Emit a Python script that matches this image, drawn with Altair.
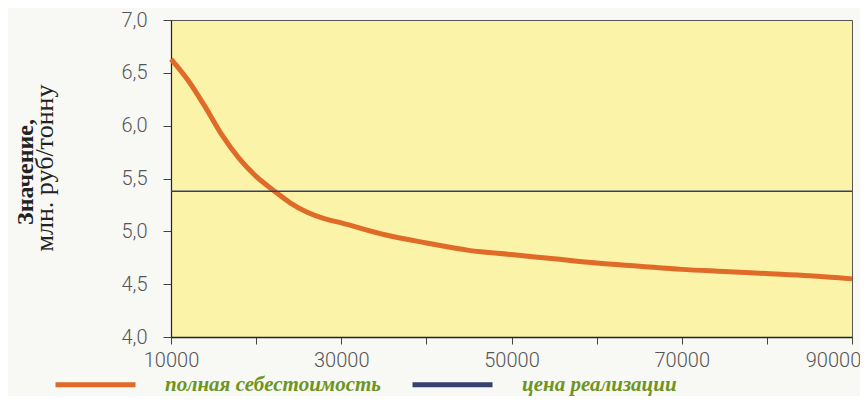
import altair as alt
import pandas as pd

# --- data ---
volume = [10000, 12000, 14000, 16000, 18000, 20000, 22000, 24000, 26000, 28000,
          30000, 35000, 40000, 45000, 50000, 55000, 60000, 65000, 70000, 75000,
          80000, 85000, 90000]
full_cost = [6.63, 6.43, 6.18, 5.91, 5.69, 5.52, 5.39, 5.27, 5.18, 5.12,
             5.08, 4.97, 4.89, 4.82, 4.78, 4.74, 4.70, 4.67, 4.64, 4.62,
             4.60, 4.58, 4.55]
price_x = [10000, 90000]
price_value = [5.38, 5.38]

series_names = ["полная себестоимость", "цена реализации"]
series_colors = ["#E06A28", "#34406E"]
x_ticks = [10000, 20000, 30000, 40000, 50000, 60000, 70000, 80000, 90000]
y_ticks = [4.0, 4.5, 5.0, 5.5, 6.0, 6.5, 7.0]
y_title_1 = "Значение,"
y_title_2 = "млн. руб/тонну"

df = pd.DataFrame({
    "x": volume + price_x,
    "v": full_cost + price_value,
    "s": [series_names[0]] * len(volume) + [series_names[1]] * len(price_x),
})

color = alt.Color(
    "s:N",
    scale=alt.Scale(domain=series_names, range=series_colors),
    legend=alt.Legend(
        title=None, orient="none", legendX=-118, legendY=322, direction="horizontal",
        symbolType="stroke", symbolSize=6400, symbolStrokeWidth=5,
        labelFont="Liberation Serif", labelFontStyle="italic", labelFontWeight="bold",
        labelFontSize=21, labelColor="#6E9520", labelOffset=27, columnPadding=21,
        labelLimit=400, padding=0,
    ),
)

xenc = alt.X(
    "x:Q",
    scale=alt.Scale(domain=[10000, 90000], nice=False),
    axis=alt.Axis(
        values=x_ticks, title=None, grid=False,
        labelExpr="datum.value % 20000 == 10000 ? format(datum.value, 'd') : ''",
        labelFont="Roboto", labelFontWeight=300, labelFontSize=20, labelColor="#555555",
        labelOffset={"condition": {"test": "datum.value == 90000", "value": -19}, "value": 0},
        tickSize=7, tickColor="#444444", domainColor="#222222", domainWidth=1.5,
        labelPadding=6, labelFlush=False,
    ),
)
yenc = alt.Y(
    "v:Q",
    scale=alt.Scale(domain=[4, 7], nice=False, zero=False),
    axis=alt.Axis(
        values=y_ticks, title=None, grid=False,
        labelExpr="replace(format(datum.value, '.1f'), '.', ',')",
        labelFont="Roboto", labelFontWeight=300, labelFontSize=20, labelColor="#555555",
        tickSize=8, tickColor="#444444", domainColor="#222222", domainWidth=1.2,
        labelPadding=16,
    ),
)

base = alt.Chart(df)
cost = base.transform_filter(alt.datum.s == series_names[0]).mark_line(
    strokeWidth=5, interpolate="monotone"
).encode(x=xenc, y=yenc, color=color)
price = base.transform_filter(alt.datum.s == series_names[1]).mark_line(
    strokeWidth=1.5
).encode(x=xenc, y=yenc, color=color)

t1 = alt.Chart(pd.DataFrame({"t": [y_title_1]})).mark_text(
    angle=270, font="Liberation Serif", fontWeight="bold", fontSize=24,
    color="#222222", align="center", baseline="alphabetic"
).encode(x=alt.value(-138), y=alt.value(152), text="t:N")
t2 = alt.Chart(pd.DataFrame({"t": [y_title_2]})).mark_text(
    angle=270, font="Liberation Serif", fontSize=26,
    color="#222222", align="center", baseline="alphabetic"
).encode(x=alt.value(-118), y=alt.value(148), text="t:N")

chart = alt.layer(cost, price, t1, t2).properties(
    width=681, height=317,
    autosize=alt.AutoSizeParams(type="none"),
    padding={"left": 163, "top": 12, "right": 8, "bottom": 59},
    background="#F8F8F5",
).configure_view(
    fill="#FBF4A8", stroke="#555555", strokeWidth=1
)

chart.save("out.html", embed_options={"renderer": "svg", "actions": False})
